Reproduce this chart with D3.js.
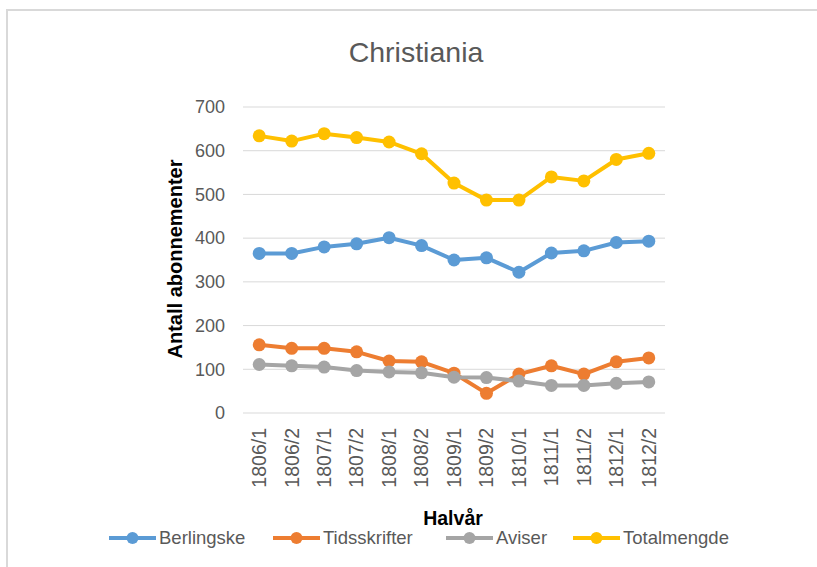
<!DOCTYPE html>
<html>
<head>
<meta charset="utf-8">
<script src="https://cdn.jsdelivr.net/npm/d3@7"></script>
<style>
  html, body { margin: 0; padding: 0; background: #fff; overflow: hidden; }
  svg { display: block; }
  svg text { font-family: "Liberation Sans", Arial, sans-serif; }
</style>
</head>
<body>
<div id="chart"></div>
<script>
/*
------------------------------
DATA: halvår and subscriptions per series
------------------------------
*/
const periods = ["1806/1", "1806/2", "1807/1", "1807/2", "1808/1", "1808/2", "1809/1",
  "1809/2", "1810/1", "1811/1", "1811/2", "1812/1", "1812/2"];
const berlingske = [365, 365, 380, 387, 401, 383, 350, 355, 322, 366, 371, 390, 393];
const tidsskrifter = [156, 148, 148, 140, 119, 117, 91, 45, 89, 108, 89, 117, 126];
const aviser = [111, 108, 105, 97, 94, 92, 82, 81, 73, 63, 63, 68, 71];
const totalmengde = [634, 622, 639, 630, 620, 593, 526, 487, 487, 540, 531, 580, 594];
const yTicks = [0, 100, 200, 300, 400, 500, 600, 700];

const seriesNames = ["Berlingske", "Tidsskrifter", "Aviser", "Totalmengde"];
const seriesValues = [berlingske, tidsskrifter, aviser, totalmengde];
const colors = ["#5B9BD5", "#ED7D31", "#A5A5A5", "#FFC000"];

/*
------------------------------
METHOD: size of the canvas
------------------------------
*/
const width = 817;
const height = 567;
const plot = { left: 243, right: 665, top: 107, bottom: 413 };

const svg = d3.select("#chart")
  .append("svg")
  .attr("width", width)
  .attr("height", height);

// chart frame (right and bottom edges fall outside the picture)
svg.append("rect")
  .attr("x", 7).attr("y", 10)
  .attr("width", 830).attr("height", 580)
  .attr("fill", "#fff")
  .attr("stroke", "#D9D9D9")
  .attr("stroke-width", 2);

const x = d3.scaleBand().domain(periods).range([plot.left, plot.right]).padding(0);
const y = d3.scaleLinear().domain([0, 700]).range([plot.bottom, plot.top]);
const cx = d => x(d) + x.bandwidth() / 2;

// grid lines
svg.append("g")
  .selectAll("line")
  .data(yTicks)
  .join("line")
  .attr("x1", plot.left).attr("x2", plot.right)
  .attr("y1", d => y(d)).attr("y2", d => y(d))
  .attr("stroke", "#D9D9D9")
  .attr("stroke-width", 1);

// y tick labels
svg.append("g")
  .selectAll("text")
  .data(yTicks)
  .join("text")
  .attr("x", 225)
  .attr("y", d => y(d))
  .attr("dy", "0.35em")
  .attr("text-anchor", "end")
  .attr("font-size", 18)
  .attr("fill", "#595959")
  .text(d => d);

// x tick labels, rotated
svg.append("g")
  .selectAll("text")
  .data(periods)
  .join("text")
  .attr("transform", d => `translate(${cx(d)},428) rotate(-90)`)
  .attr("dy", "0.35em")
  .attr("text-anchor", "end")
  .attr("font-size", 19.5)
  .attr("fill", "#595959")
  .text(d => d);

// title
svg.append("text")
  .attr("x", 416).attr("y", 62)
  .attr("text-anchor", "middle")
  .attr("font-size", 28.5)
  .attr("fill", "#595959")
  .text("Christiania");

// axis titles
svg.append("text")
  .attr("transform", "translate(182,259) rotate(-90)")
  .attr("text-anchor", "middle")
  .attr("font-size", 20)
  .attr("font-weight", "bold")
  .attr("fill", "#000")
  .text("Antall abonnementer");

svg.append("text")
  .attr("x", 453).attr("y", 525)
  .attr("text-anchor", "middle")
  .attr("font-size", 19.5)
  .attr("font-weight", "bold")
  .attr("fill", "#000")
  .text("Halvår");

// lines and markers
const line = d3.line()
  .x((d, i) => cx(periods[i]))
  .y(d => y(d));

seriesValues.forEach((vals, k) => {
  const g = svg.append("g");
  g.append("path")
    .datum(vals)
    .attr("d", line)
    .attr("fill", "none")
    .attr("stroke", colors[k])
    .attr("stroke-width", 4)
    .attr("stroke-linejoin", "round")
    .attr("stroke-linecap", "round");
  g.selectAll("circle")
    .data(vals)
    .join("circle")
    .attr("cx", (d, i) => cx(periods[i]))
    .attr("cy", d => y(d))
    .attr("r", 6.5)
    .attr("fill", colors[k]);
});

// legend
const legendX = [109, 273, 446, 573];
const legend = svg.append("g")
  .selectAll("g")
  .data(seriesNames)
  .join("g")
  .attr("transform", (d, i) => `translate(${legendX[i]},538)`);

legend.append("line")
  .attr("x1", 0).attr("x2", 47)
  .attr("stroke", (d, i) => colors[i])
  .attr("stroke-width", 4);
legend.append("circle")
  .attr("cx", 23.5).attr("r", 6)
  .attr("fill", (d, i) => colors[i]);
legend.append("text")
  .attr("x", 50)
  .attr("dy", "0.35em")
  .attr("font-size", 18.5)
  .attr("fill", "#595959")
  .text(d => d);
</script>
</body>
</html>
